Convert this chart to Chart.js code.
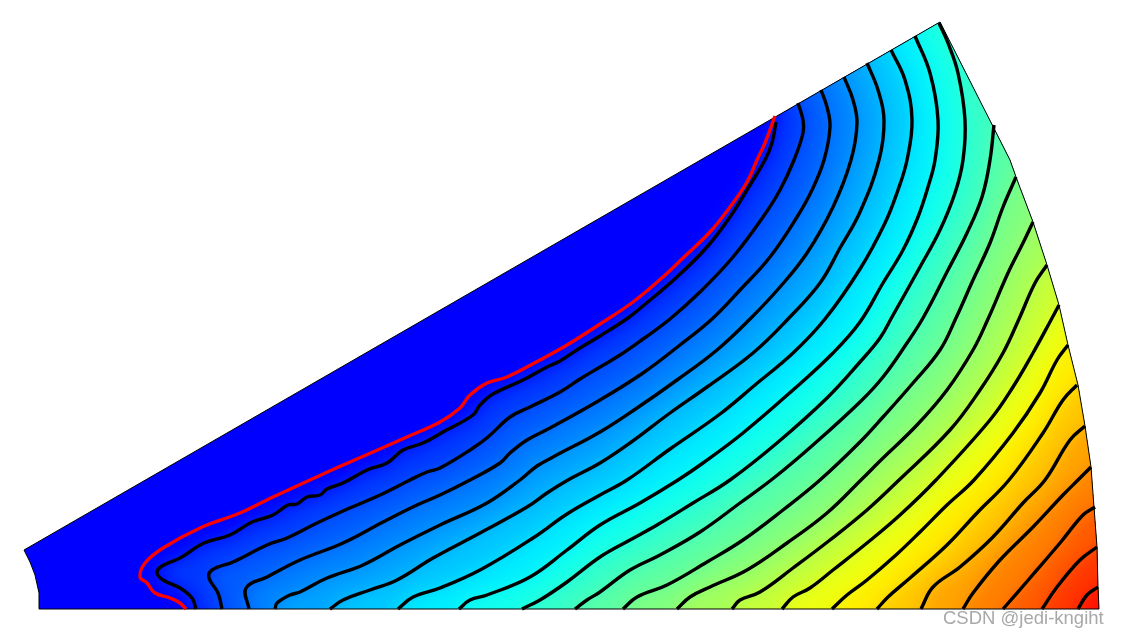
<!DOCTYPE html>
<html>
<head>
<meta charset="utf-8">
<title>Contour wedge</title>
<script src="https://cdn.jsdelivr.net/npm/chart.js@4"></script>
<style>
  html, body { margin: 0; padding: 0; background: #fff; }
  #wrap { width: 1121px; height: 637px; }
</style>
</head>
<body>
<div id="wrap"><canvas id="chart"></canvas></div>
<script>
// Wedge outline: inner arc, top edge, outer arc, bottom edge
const innerArc = [[39, 609], [39, 593], [35, 575], [30, 562], [24, 550]];
const outerArc = [[940, 22], [1010, 160], [1016, 177], [1033, 222], [1047, 265], [1059, 305], [1068, 345], [1078, 385],
    [1085, 426], [1091, 467], [1094, 507], [1097, 547], [1098, 587], [1099, 609]];

// Red contour
const redContour = [[186, 609], [180, 603], [170, 598], [155, 593], [147, 583], [140, 577], [145, 563], [163, 548], [200, 528],
    [240, 513], [273, 497], [310, 480], [343, 465], [373, 452], [407, 437], [440, 422], [460, 408], [470, 395], [487, 383],
    [507, 377], [540, 360], [567, 345], [600, 324], [633, 302], [663, 277], [683, 258], [710, 232], [730, 207], [747, 182],
    [757, 160], [765, 143], [775, 116]];

// Black contours, from the bottom edge up to the rim
const contour1 = [[196, 609], [192, 598], [180, 588], [163, 580], [157, 573], [162, 566], [180, 558], [204, 543], [230, 535],
    [252, 522], [273, 515], [288, 505], [297, 504], [307, 497], [320, 495], [327, 489], [343, 483], [367, 470], [387, 463],
    [403, 450], [423, 443], [443, 432], [473, 415], [480, 405], [493, 394], [523, 380], [547, 367], [560, 361], [580, 348],
    [600, 336], [628, 318], [643, 306], [677, 277], [707, 247], [730, 217], [750, 185], [765, 160], [772, 143], [776, 122]];
const contour2 = [[222, 609], [218, 593], [209, 578], [212, 570], [233, 562], [267, 545], [287, 538], [317, 523], [343, 511],
    [380, 495], [410, 480], [427, 472], [440, 468], [473, 448], [488, 437], [510, 417], [530, 407], [560, 392], [580, 379],
    [600, 367], [620, 355], [643, 339], [670, 319], [700, 292], [733, 257], [763, 217], [780, 190], [794, 160], [803, 133], [803, 120], [798, 103]];
const contour3 = [[249, 609], [246, 588], [267, 577], [300, 560], [343, 543], [383, 522], [417, 505], [440, 495], [470, 480],
    [500, 463], [510, 453], [527, 440], [550, 428], [600, 400], [643, 373], [680, 345], [712, 319], [740, 290], [770, 257],
    [797, 217], [812, 190], [824, 160], [830, 127], [827, 107], [821, 90]];
const contour4 = [[275, 609], [277, 603], [290, 595], [300, 592], [327, 578], [363, 565], [400, 545], [440, 525], [487, 503],
    [520, 480], [537, 466], [553, 457], [600, 432], [637, 408], [677, 380], [717, 350], [750, 319], [780, 287], [807, 253],
    [833, 207], [851, 160], [857, 123], [853, 100], [844, 77]];
const contour5 = [[330, 609], [343, 600], [370, 590], [397, 580], [433, 558], [480, 533], [527, 507], [547, 493], [568, 480],
    [600, 463], [630, 443], [670, 413], [707, 387], [753, 353], [788, 319], [820, 283], [840, 248], [860, 212], [879, 160], [884, 120], [878, 90], [867, 63]];
const contour6 = [[398, 609], [413, 597], [440, 588], [480, 570], [533, 538], [567, 514], [600, 495], [627, 480], [670, 449],
    [720, 414], [755, 385], [793, 353], [825, 319], [860, 269], [885, 223], [898, 190], [907, 160], [912, 120], [905, 80], [891, 50]];
const contour7 = [[459, 609], [470, 600], [487, 595], [530, 577], [567, 550], [600, 525], [640, 503], [678, 480], [703, 463],
    [743, 433], [793, 390], [833, 353], [860, 322], [883, 283], [903, 250], [918, 217], [928, 187], [935, 160], [938, 120], [930, 73], [915, 36]];
const contour8 = [[522, 609], [540, 600], [567, 582], [600, 557], [630, 540], [657, 525], [693, 503], [730, 480], [777, 443],
    [827, 398], [860, 362], [880, 338], [892, 317], [920, 267], [940, 230], [955, 193], [963, 160], [965, 120], [958, 73], [948, 43], [939, 23]];
const contour9 = [[575, 609], [587, 600], [600, 592], [630, 570], [660, 555], [700, 532], [740, 503], [775, 477], [813, 445],
    [860, 402], [883, 377], [907, 343], [923, 318], [948, 270], [967, 233], [982, 197], [990, 160], [994, 125]];
const contour10 = [[623, 609], [637, 597], [667, 585], [707, 562], [743, 540], [783, 510], [820, 480], [860, 442], [883, 417],
    [913, 383], [940, 350], [956, 318], [973, 280], [990, 243], [1003, 207], [1016, 177]];
const contour11 = [[677, 609], [690, 597], [710, 587], [747, 570], [787, 543], [827, 513], [862, 479], [880, 461], [917, 425],
    [947, 390], [973, 350], [988, 319], [1008, 273], [1023, 243], [1033, 222]];
const contour12 = [[732, 609], [740, 600], [760, 592], [793, 568], [830, 540], [867, 510], [898, 481], [950, 430], [980, 390],
    [1003, 353], [1019, 319], [1035, 283], [1047, 265]];
const contour13 = [[782, 609], [793, 597], [810, 588], [833, 570], [867, 543], [900, 515], [936, 480], [990, 420], [1013, 387],
    [1033, 353], [1051, 320], [1059, 305]];
const contour14 = [[832, 609], [847, 595], [867, 580], [896, 555], [920, 532], [947, 505], [974, 480], [1013, 433], [1040, 393], [1057, 360], [1068, 345]];
const contour15 = [[877, 609], [888, 597], [910, 578], [947, 545], [977, 513], [1009, 480], [1043, 433], [1063, 400], [1077, 385]];
const contour16 = [[921, 609], [933, 587], [960, 567], [993, 537], [1023, 503], [1045, 480], [1070, 440], [1085, 426]];
const contour17 = [[963, 609], [973, 593], [1000, 560], [1033, 527], [1063, 495], [1079, 479], [1091, 467]];
const contour18 = [[1003, 609], [1030, 578], [1060, 543], [1083, 515], [1095, 507]];
const contour19 = [[1042, 609], [1057, 587], [1080, 560], [1097, 547]];
const contour20 = [[1078, 609], [1087, 595], [1098, 587]];

const contours = [contour1, contour2, contour3, contour4, contour5, contour6, contour7, contour8, contour9, contour10,
    contour11, contour12, contour13, contour14, contour15, contour16, contour17, contour18, contour19, contour20];

const toPoints = (list) => list.map(p => ({ x: p[0], y: p[1] }));
const wedge = toPoints([...innerArc, ...outerArc, innerArc[0]]);

// Jet colormap, t from 0 to 1
const jet = (t) => {
    const ch = (v) => Math.round(255 * Math.max(0, Math.min(1, v)));
    return `rgb(${ch(3 * t - 1)},${ch(t < 0.5 ? 3 * t : 3 - 3 * t)},${ch(2 - 3 * t)})`;
};

// Region past a contour: the contour pushed through the rim, then round the far side
const bandRegion = (line) => {
    const a = line[0], c = line[line.length - 1], d = line[line.length - 2];
    const len = Math.hypot(c[0] - d[0], c[1] - d[1]);
    const end = [c[0] + (c[0] - d[0]) / len * 60, c[1] + (c[1] - d[1]) / len * 60];
    const start = [a[0], 700];
    return toPoints([start, ...line, end, [1400, -300], [1400, 700], start]);
};

const bandDatasets = contours.map((line, i) => ({
    data: bandRegion(line),
    showLine: true,
    fill: 'shape',
    backgroundColor: jet((i + 1.5) / 21),
    borderWidth: 0,
    pointRadius: 0,
    order: 100 - i
}));

const lineDatasets = contours.map((line) => ({
    data: toPoints(line),
    showLine: true,
    fill: false,
    borderColor: '#000',
    borderWidth: 3.4,
    pointRadius: 0,
    tension: 0.4,
    borderCapStyle: 'butt',
    order: 5
}));

const lastBand = bandDatasets.length - 1;

// Blur the bands into each other and keep them inside the wedge
const softBands = {
    id: 'softBands',
    beforeDatasetsDraw(chart) {
        const { ctx, scales: { x, y } } = chart;
        ctx.save();
        ctx.beginPath();
        wedge.forEach((p, i) => {
            if (i === 0) ctx.moveTo(x.getPixelForValue(p.x), y.getPixelForValue(p.y));
            else ctx.lineTo(x.getPixelForValue(p.x), y.getPixelForValue(p.y));
        });
        ctx.closePath();
        ctx.fillStyle = '#0000ff';
        ctx.fill();
        ctx.clip();
        ctx.filter = 'blur(9px)';
    },
    afterDatasetDraw(chart, args) {
        if (args.index === lastBand) chart.ctx.restore();
    },
    afterDraw(chart) {
        const ctx = chart.ctx;
        ctx.save();
        ctx.font = '18.5px "Liberation Sans"';
        ctx.textBaseline = 'alphabetic';
        ctx.fillStyle = 'rgba(255,255,255,0.8)';
        ctx.fillText('CSDN @jedi-kngiht', 944, 625);
        ctx.fillStyle = '#a8a8a8';
        ctx.fillText('CSDN @jedi-kngiht', 943, 624);
        ctx.restore();
    }
};

new Chart(document.getElementById('chart'), {
    type: 'scatter',
    data: {
        datasets: [
            ...bandDatasets,
            ...lineDatasets,
            { data: toPoints(redContour), showLine: true, fill: false, borderColor: '#ff0000', borderWidth: 3.4, pointRadius: 0, tension: 0.4, order: 4 },
            { data: wedge, showLine: true, fill: false, borderColor: '#000', borderWidth: 1, pointRadius: 0, order: 6 }
        ]
    },
    options: {
        responsive: true,
        maintainAspectRatio: false,
        animation: false,
        layout: { padding: 0 },
        plugins: { legend: { display: false }, tooltip: { enabled: false }, title: { display: false } },
        scales: {
            x: { type: 'linear', min: 0, max: 1121, display: false },
            y: { type: 'linear', min: 0, max: 637, reverse: true, display: false }
        }
    },
    plugins: [softBands]
});
</script>
</body>
</html>
